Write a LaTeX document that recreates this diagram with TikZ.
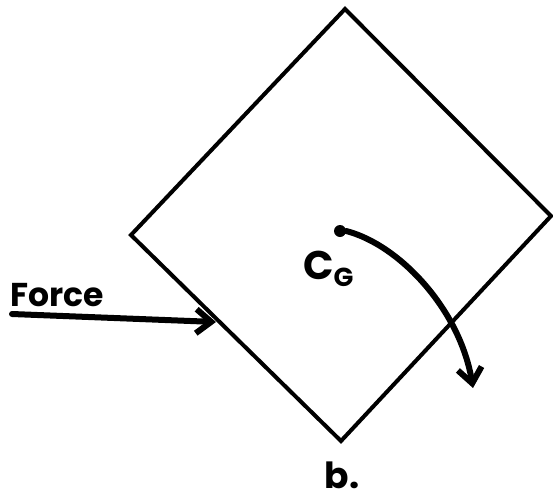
\documentclass[tikz,border=0pt]{standalone}
\usepackage{fontspec}
\setmainfont{Poppins}
\usetikzlibrary{arrows.meta}
\tikzset{
  body/.style={line width=4pt, line join=miter},
  push/.style={line width=6pt, line cap=round, -{Straight Barb[length=15pt,width=24pt,line width=6pt]}},
  lbl/.style={inner sep=0pt, font=\bfseries\fontsize{33}{36}\selectfont},
  big/.style={inner sep=0pt, font=\bfseries\fontsize{40}{44}\selectfont},
  mid/.style={inner sep=0pt, font=\bfseries\fontsize{36}{38}\selectfont},
}
\begin{document}
\begin{tikzpicture}[x=1pt,y=-1pt]
\useasboundingbox (0,0) rectangle (553,503);
\coordinate (T) at (345,9);
\coordinate (R) at (551,216);
\coordinate (B) at (341,441);
\coordinate (L) at (131,235);
\draw[body] (T) -- (R) -- (B) -- (L) -- cycle;
% force
\coordinate (fs) at (12,314);
\coordinate (fe) at (216,322);
\draw[push] (fs) -- (fe);
\node[lbl, anchor=south west] (force) at (10,307) {Force};
% CG
\node[circle, fill, inner sep=0pt, minimum size=12pt] (cg) at (340,231) {};
\coordinate (rt) at (473,388);
\draw[push] (cg.east) .. controls (400,245) and (460,310) .. (rt);
\node[big, anchor=base west] (cgl) at (303,279) {C\raisebox{-7pt}{\fontsize{26}{28}\selectfont G}};
\node[mid, anchor=base] (blab) at (342,488) {b.};
\end{tikzpicture}
\end{document}
